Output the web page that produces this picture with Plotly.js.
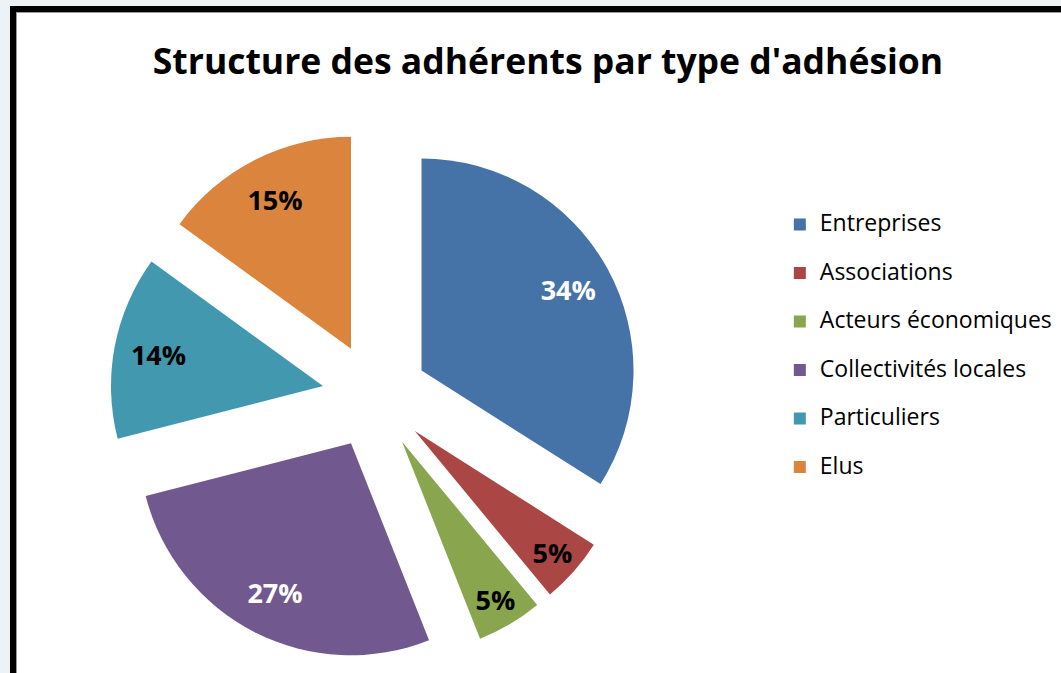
<!DOCTYPE html>
<html>
<head>
<meta charset="utf-8">
<script src="https://cdn.plot.ly/plotly-3.0.1.min.js"></script>
<style>
  body { margin: 0; background: #edf2f6; overflow: hidden; }
  #frame {
    position: absolute; left: 10px; top: 6px; width: 1100px; height: 700px;
    background: #fff; border-left: 6px solid #000; border-top: 6px solid #000;
    box-shadow: inset 1px 1px 0 #9a9a9a;
  }
  #chart { position: absolute; left: 0; top: 0; width: 1061px; height: 673px; }
</style>
</head>
<body>
<div id="frame"></div>
<div id="chart"></div>
<script>
// structure des adhérents (en %)
var categories = ["Entreprises", "Associations", "Acteurs économiques", "Collectivités locales", "Particuliers", "Elus"];
var shares = [34, 5, 5, 27, 14, 15];
var sliceColors = ["#4572A7", "#AA4643", "#89A54E", "#71588F", "#4198AF", "#DB843D"];
var labelColors = ["#ffffff", "#000000", "#000000", "#ffffff", "#000000", "#000000"];

var fontStack = "'Open Sans', Carlito, Lato, sans-serif";
var pieDomain = { x: [0.1037, 0.6033], y: [0.0178, 0.8053] };

// legend label: bigger visible text, empty 2nd line to space the items
var legendLabels = categories.map(function (c) {
  return '<span style="font-size:23px">' + c + "</span><br> ";
});

var slices = {
  type: "pie",
  labels: legendLabels,
  values: shares,
  sort: false,
  direction: "clockwise",
  rotation: 0,
  pull: 0.25,
  domain: pieDomain,
  marker: { colors: sliceColors, line: { width: 0 } },
  textinfo: "none",
  hoverinfo: "none",
};

// transparent ring on top, only used to put the % labels further out
var labelsRing = {
  type: "pie",
  labels: categories,
  values: shares,
  sort: false,
  direction: "clockwise",
  rotation: 0,
  pull: 0.25,
  hole: 0.58,
  domain: pieDomain,
  showlegend: false,
  marker: { colors: shares.map(function () { return "rgba(0,0,0,0)"; }), line: { width: 0 } },
  textinfo: "percent",
  textposition: "inside",
  insidetextorientation: "horizontal",
  insidetextfont: { family: fontStack, size: 27, weight: "bold", color: labelColors },
  hoverinfo: "none",
};

Plotly.newPlot(
  "chart",
  [slices, labelsRing],
  {
    width: 1061,
    height: 673,
    margin: { l: 0, r: 0, t: 0, b: 0 },
    paper_bgcolor: "rgba(0,0,0,0)",
    plot_bgcolor: "rgba(0,0,0,0)",
    font: { family: fontStack, color: "#000" },
    title: {
      text: "Structure des adhérents par type d'adhésion",
      font: { family: fontStack, size: 35.5, weight: "bold", color: "#000" },
      x: 0.5165,
      xanchor: "center",
      y: 0.908,
      yanchor: "middle",
    },
    legend: {
      x: 0.735,
      xanchor: "left",
      y: 0.693,
      yanchor: "top",
      valign: "top",
      font: { family: fontStack, size: 17.5, color: "#000" },
      bgcolor: "rgba(0,0,0,0)",
    },
  },
  { displayModeBar: false, staticPlot: true }
);
</script>
</body>
</html>
